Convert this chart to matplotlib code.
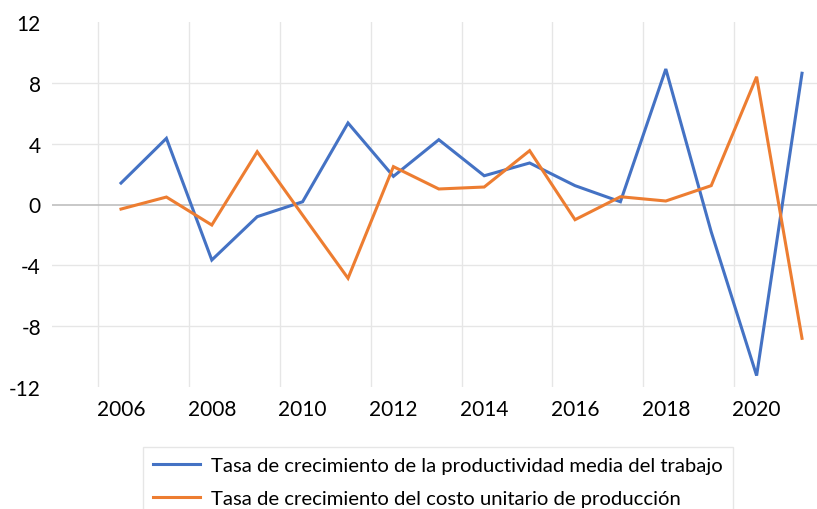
import matplotlib
matplotlib.use("Agg")
import matplotlib.pyplot as plt

years = list(range(2006, 2022))
productividad = [1.41, 4.35, -3.65, -0.80, 0.18, 5.36, 1.85, 4.26,
                 1.89, 2.73, 1.24, 0.18, 8.91, -1.8, -11.25, 8.63]
costo_unitario = [-0.30, 0.49, -1.35, 3.47, -0.70, -4.85, 2.49, 1.02,
                  1.15, 3.54, -1.00, 0.51, 0.23, 1.24, 8.40, -8.80]

label_prod = "Tasa de crecimiento de la productividad media del trabajo"
label_costo = "Tasa de crecimiento del costo unitario de producción"

y_ticks = [-12, -8, -4, 0, 4, 8, 12]
x_labels = [2006, 2008, 2010, 2012, 2014, 2016, 2018, 2020]

plt.rcParams['font.family'] = ['Lato', 'DejaVu Sans']

fig = plt.figure(figsize=(8.17, 5.10), dpi=100)
ax = fig.add_axes([52 / 817, 1 - 388 / 510, 1 - 52 / 817, (388 - 23) / 510])

ax.plot(years, productividad, color="#4472C4", lw=2.2, label=label_prod,
        solid_joinstyle="miter", zorder=3)
ax.plot(years, costo_unitario, color="#ED7D31", lw=2.2, label=label_costo,
        solid_joinstyle="miter", zorder=3)

ax.set_xlim(2004.48, 2021.33)
ax.set_ylim(-12, 12)

# grid lines like the excel chart
for v in [-8, -4, 4, 8]:
    ax.axhline(v, color="#E6E6E6", lw=1.0, zorder=1)
ax.axhline(0, color="#BFBFBF", lw=1.2, zorder=2)
for x in range(2005, 2020, 2):
    ax.axvline(x + 0.5, color="#E6E6E6", lw=1.0, zorder=1)

ax.set_yticks(y_ticks)
ax.set_yticklabels([str(v) for v in y_ticks])
ax.set_xticks(x_labels)
ax.set_xticklabels([str(v) for v in x_labels])
ax.tick_params(axis="both", length=0, labelsize=15, colors="#000000")
ax.tick_params(axis="y", pad=8)
ax.tick_params(axis="x", pad=9)

for s in ax.spines.values():
    s.set_visible(False)

leg = fig.legend(loc="upper left", bbox_to_anchor=(143 / 817, 1 - 448 / 510),
                 fontsize=14.6, frameon=True, fancybox=False,
                 handlelength=2.3, handletextpad=0.55, labelspacing=0.75,
                 borderpad=0.5, borderaxespad=0)
leg.get_frame().set_edgecolor("#E0E0E0")
leg.get_frame().set_linewidth(1.0)

fig.savefig("out.png", dpi=100)
